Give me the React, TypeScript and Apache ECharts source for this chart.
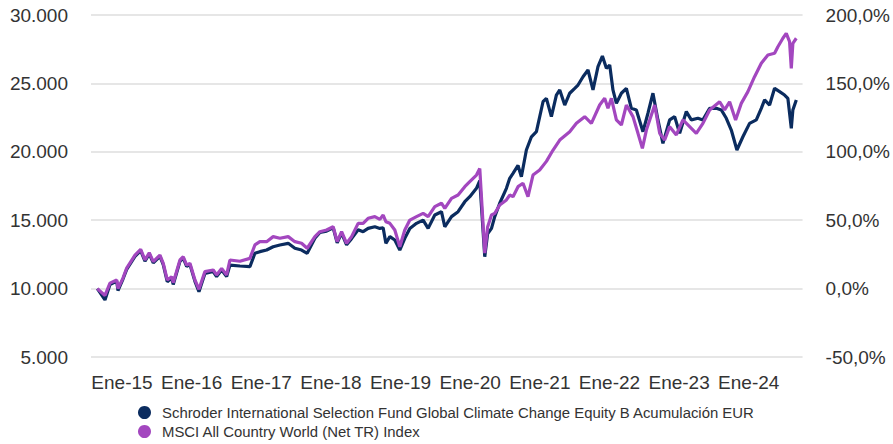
import React, { useEffect, useRef } from "react";
import * as echarts from "echarts";

// x values: months since January 2015 (0 = Ene-15)
const fundMonths = [
  -4.25, -2.93, -2.07, -0.91, -0.69, 0.17, 0.81, 2.24, 3.22, 3.96, 4.7, 5.39, 6.54, 7.11, 7.8, 8.56, 8.83,
  9.99, 10.56, 11.14, 11.71, 12.57, 13.26, 14.29, 15.72, 16.3, 17.17, 18.03, 18.6, 20.32, 22.04, 22.9,
  23.76, 24.92, 26.05, 27.21, 28.64, 29.79, 30.94, 31.91, 33.24, 34.1, 35.25, 36.39, 37.08, 37.84, 38.7,
  39.56, 40.69, 41.55, 42.41, 43.57, 44.43, 45.0, 45.47, 46.16, 47.01, 47.87, 48.73, 49.6, 50.75, 51.89,
  52.75, 53.9, 55.05, 55.62, 56.78, 57.91, 59.07, 59.93, 61.08, 61.65, 62.51, 63.0, 63.67, 64.23, 65.09,
  66.24, 66.81, 67.38, 68.24, 68.82, 69.68, 70.55, 71.41, 72.55, 73.13, 73.99, 74.85, 75.43, 76.29, 77.15,
  78.01, 78.58, 79.44, 80.3, 81.16, 82.02, 82.78, 83.47, 84.04, 84.6, 85.19, 86.05, 86.91, 87.77, 88.63,
  89.77, 90.63, 91.49, 92.35, 93.21, 94.37, 95.23, 96.09, 97.24, 98.1, 99.24, 100.1, 101.26, 102.41,
  103.27, 104.13, 104.99, 105.96, 106.99, 108.14, 109.3, 110.16, 110.73, 111.59, 112.45, 113.31, 114.17,
  114.74, 115.33, 115.6, 116.19,
];
const fundValues = [
  10000, 9170, 10300, 10550, 9850, 10700, 11400, 12350, 12780, 12000, 12530, 11880, 12350, 11750, 10500, 10770, 10300,
  11990, 12230, 11620, 11750, 10530, 9770, 11100, 11250, 10880, 11350, 10880, 11720, 11650, 11600, 12580,
  12700, 12820, 13060, 13190, 13310, 12950, 12820, 12580, 13680, 14100, 14200, 14450, 13350, 14050, 13200,
  13650, 14300, 14160, 14400, 14520, 14400, 14450, 13310, 13800, 13550, 12820, 13680, 14400, 14770, 15010,
  14400, 15380, 15620, 14520, 15260, 15620, 16350, 16720, 17330, 17900, 12330, 14000, 14400, 15260, 16240,
  17330, 18060, 18430, 19000, 18180, 20130, 21100, 21470, 23660, 23910, 22570, 24150, 24520, 23420, 24280,
  24640, 24880, 25490, 25980, 24520, 26220, 27000, 26100, 26340, 24520, 23540, 24280, 24640, 23180, 23060,
  21470, 22820, 24280, 22330, 20620, 22330, 22570, 21350, 22940, 22330, 22450, 22330, 23180, 23180,
  23060, 22450, 21590, 20130, 21100, 22080, 22330, 23180, 23790, 23420, 24640, 24400, 24150,
  23910, 21720, 23060, 23790,
];

const indexMonths = [
  -4.25, -2.93, -2.07, -0.91, -0.69, 0.17, 0.81, 2.24, 3.22, 3.96, 4.7, 5.39, 6.54, 7.11, 7.8, 8.56, 8.83,
  9.99, 10.56, 11.14, 11.71, 12.57, 13.26, 14.29, 15.72, 16.3, 17.17, 18.03, 18.6, 20.32, 22.04, 22.9,
  23.76, 24.92, 26.05, 27.21, 28.64, 29.79, 30.94, 31.91, 33.24, 34.1, 35.25, 36.39, 37.08, 37.84, 38.7,
  39.56, 40.69, 41.55, 42.41, 43.57, 44.43, 45.0, 45.47, 46.16, 47.01, 47.87, 48.73, 49.6, 50.75, 51.89,
  52.75, 53.9, 55.05, 55.62, 56.78, 57.91, 59.07, 59.93, 61.08, 61.65, 62.51, 63.0, 63.67, 64.23, 65.09,
  66.24, 66.81, 67.38, 68.24, 69.1, 69.96, 70.82, 71.97, 73.13, 74.28, 75.43, 77.15, 78.3, 79.73, 80.88,
  82.31, 83.17, 83.74, 84.33, 85.19, 86.05, 86.91, 88.05, 88.91, 89.67, 90.36, 91.79, 92.65, 93.51, 94.37,
  95.52, 96.66, 97.81, 98.96, 100.1, 101.26, 102.98, 103.84, 104.7, 105.73, 106.71, 107.85, 109.0, 110.16,
  111.3, 112.45, 113.02, 113.88, 114.46, 115.03, 115.33, 115.6, 116.19,
];
const indexValues = [
  10000, 9500, 10400, 10630, 10000, 10770, 11500, 12450, 12870, 12090, 12620, 11970, 12450, 11850, 10630, 10870, 10430,
  12090, 12330, 11720, 11850, 10630, 9950, 11240, 11360, 11000, 11480, 11000, 12090, 12000, 12210, 13190,
  13430, 13430, 13800, 13680, 13800, 13430, 13310, 12950, 13800, 14160, 14280, 14520, 13430, 14160, 13310,
  13800, 14770, 14770, 15140, 15260, 15060, 15380, 14890, 14770, 14280, 13060, 14280, 15010, 15260, 15500,
  15260, 15990, 16240, 15870, 16600, 16840, 17450, 17820, 18300, 18780, 12600, 14500, 15380, 15500, 16110,
  16480, 16840, 16720, 17450, 17700, 16720, 18300, 18670, 19300, 20130, 20860, 21470, 22080, 22570, 22080,
  23420, 23910, 23180, 23910, 22330, 21960, 23420, 22570, 21350, 20250, 21590, 23420, 21350, 20860, 21840,
  21230, 22330, 21840, 21350, 22080, 23060, 23660, 23060, 23660, 22330, 23540, 24400, 25490, 26470,
  27080, 27200, 27680, 28300, 28660, 28050, 26100, 27930, 28300,
];

const fundName = "Schroder International Selection Fund Global Climate Change Equity B Acumulación EUR";
const indexName = "MSCI All Country World (Net TR) Index";
const xTickMonths = [0, 12, 24, 36, 48, 60, 72, 84, 96, 108];
const leftTicks = [5000, 10000, 15000, 20000, 25000, 30000];
const rightTicks = [-50, 0, 50, 100, 150, 200];

const NAVY = "#0b2c5f";
const PURPLE = "#a347bf";
const FONT = "'Liberation Sans', Arial, sans-serif";

export default function App() {
  const ref = useRef<HTMLDivElement>(null);
  useEffect(() => {
    document.body.style.margin = "0";
    const chart = echarts.init(ref.current!, null, { renderer: "svg" });
    const pair = (xs: number[], ys: number[]) => xs.map((x, i) => [x, ys[i]]);
    const legendBase = {
      orient: "horizontal",
      left: 138,
      padding: 0,
      itemWidth: 13,
      itemHeight: 13,
      itemGap: 0,
      icon: "circle",
      textStyle: { fontSize: 14.9, color: "#333", lineHeight: 15, fontFamily: FONT, padding: [0, 0, 0, 6] },
    };
    chart.setOption({
      animation: false,
      textStyle: { fontFamily: FONT },
      grid: { left: 91, right: 90, top: 15, bottom: 87, containLabel: false },
      legend: [
        { ...legendBase, top: 405, data: [fundName] },
        { ...legendBase, top: 424, data: [indexName] },
      ],
      xAxis: {
        type: "value",
        min: -5.34,
        max: 117.27,
        axisLine: { show: false },
        axisTick: { show: false },
        splitLine: { show: false },
        axisLabel: {
          customValues: xTickMonths,
          formatter: (v: number) => "Ene-" + String(15 + Math.round(v / 12)),
          fontSize: 19,
          color: "#333",
          margin: 16,
          fontFamily: FONT,
        },
      },
      yAxis: [
        {
          type: "value",
          min: leftTicks[0],
          max: leftTicks[leftTicks.length - 1],
          interval: 5000,
          position: "left",
          axisLine: { show: false },
          axisTick: { show: false },
          splitLine: { show: true, lineStyle: { color: "#e6e6e6", width: 2 } },
          axisLabel: {
            fontSize: 19,
            color: "#333",
            margin: 23,
            padding: [8, 0, 0, 0],
            fontFamily: FONT,
            formatter: (v: number) => v.toLocaleString("de-DE"),
          },
        },
        {
          type: "value",
          min: rightTicks[0],
          max: rightTicks[rightTicks.length - 1],
          interval: 50,
          position: "right",
          axisLine: { show: false },
          axisTick: { show: false },
          splitLine: { show: false },
          axisLabel: {
            fontSize: 19,
            color: "#333",
            margin: 23,
            padding: [10, 0, 0, 0],
            fontFamily: FONT,
            formatter: (v: number) => v.toFixed(1).replace(".", ",") + "%",
          },
        },
      ],
      series: [
        {
          name: fundName,
          type: "line",
          yAxisIndex: 0,
          data: pair(fundMonths, fundValues),
          showSymbol: false,
          symbol: "none",
          lineStyle: { color: NAVY, width: 3.2 },
          itemStyle: { color: NAVY },
        },
        {
          name: indexName,
          type: "line",
          yAxisIndex: 0,
          data: pair(indexMonths, indexValues),
          showSymbol: false,
          symbol: "none",
          lineStyle: { color: PURPLE, width: 3.2 },
          itemStyle: { color: PURPLE },
        },
      ],
    });
    return () => chart.dispose();
  }, []);
  return <div ref={ref} style={{ width: 893, height: 444 }} />;
}
